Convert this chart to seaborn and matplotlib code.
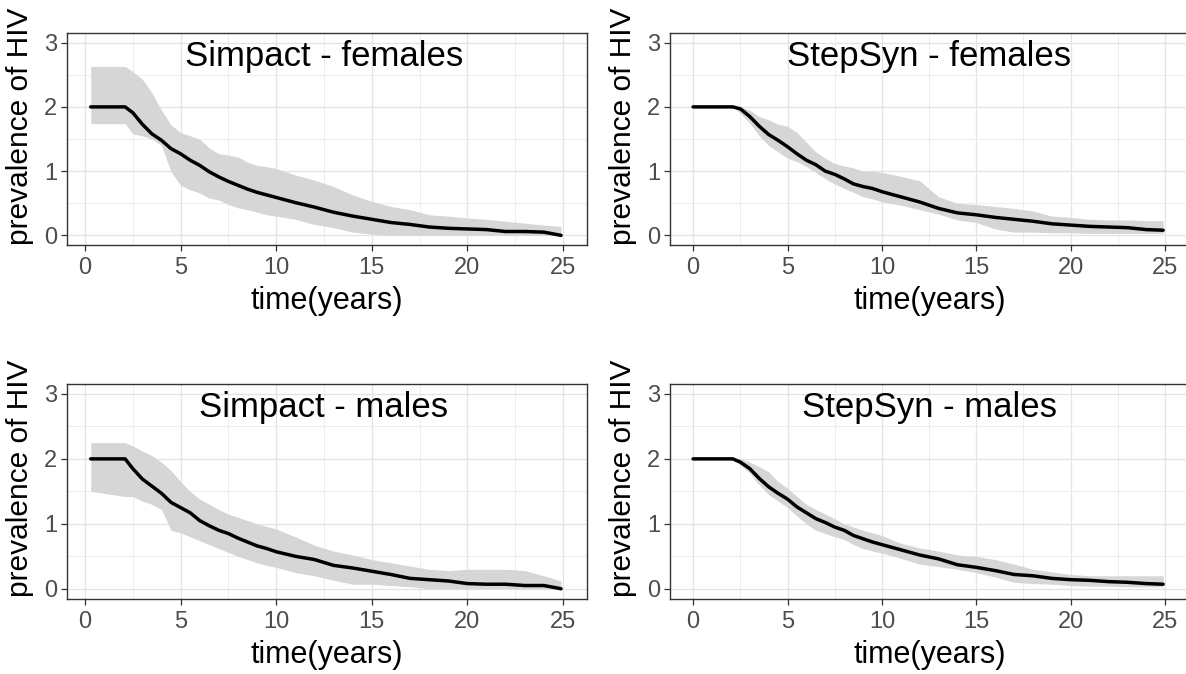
import matplotlib
matplotlib.use("Agg")
import matplotlib.pyplot as plt
import seaborn as sns
import pandas as pd
from matplotlib.ticker import MultipleLocator

sns.set_theme(style="white")
plt.rcParams["font.family"] = ["Liberation Sans", "DejaVu Sans"]

# time knots (years)
simpact_time = [0.3, 2.1, 2.5, 3, 3.5, 4, 4.5, 5, 5.5, 6, 6.5, 7, 7.5, 8, 8.5, 9, 9.5, 10,
                11, 12, 13, 14, 15, 16, 17, 18, 19, 20, 21, 22, 23, 24, 24.9]
stepsyn_time = [0.0, 2.1, 2.5, 3, 3.5, 4, 4.5, 5, 5.5, 6, 6.5, 7, 7.5, 8, 8.5, 9, 9.5, 10,
                11, 12, 13, 14, 15, 16, 17, 18, 19, 20, 21, 22, 23, 24, 24.9]

# Simpact - females
sf_mean = [2.0, 2.0, 1.91, 1.73, 1.58, 1.48, 1.35, 1.27, 1.17, 1.09, 0.99, 0.91, 0.84, 0.78, 0.72, 0.67, 0.63, 0.59,
           0.51, 0.44, 0.36, 0.30, 0.25, 0.20, 0.17, 0.13, 0.11, 0.10, 0.09, 0.06, 0.06, 0.05, 0.0]
sf_upper = [2.63, 2.63, 2.55, 2.43, 2.22, 1.95, 1.72, 1.60, 1.55, 1.50, 1.36, 1.27, 1.25, 1.22, 1.14, 1.09, 1.07, 1.04,
            0.94, 0.86, 0.76, 0.63, 0.53, 0.45, 0.40, 0.32, 0.30, 0.27, 0.25, 0.22, 0.19, 0.16, 0.14]
sf_lower = [1.74, 1.74, 1.58, 1.55, 1.50, 1.40, 0.99, 0.78, 0.71, 0.66, 0.58, 0.55, 0.48, 0.43, 0.40, 0.36, 0.32, 0.30,
            0.25, 0.17, 0.12, 0.05, 0.02, 0.0, 0.0, 0.0, 0.0, 0.0, 0.0, 0.0, 0.0, 0.0, 0.0]

# Simpact - males
sm_mean = [2.0, 2.0, 1.85, 1.69, 1.58, 1.47, 1.33, 1.25, 1.17, 1.05, 0.97, 0.90, 0.85, 0.78, 0.72, 0.66, 0.62, 0.57,
           0.50, 0.45, 0.36, 0.32, 0.27, 0.22, 0.16, 0.14, 0.12, 0.08, 0.07, 0.07, 0.05, 0.05, 0.0]
sm_upper = [2.25, 2.25, 2.20, 2.12, 2.05, 1.95, 1.82, 1.65, 1.50, 1.38, 1.30, 1.22, 1.15, 1.10, 1.05, 1.00, 0.96, 0.92,
            0.80, 0.67, 0.58, 0.52, 0.45, 0.40, 0.35, 0.30, 0.28, 0.30, 0.30, 0.30, 0.28, 0.20, 0.12]
sm_lower = [1.50, 1.42, 1.42, 1.35, 1.30, 1.22, 0.90, 0.86, 0.80, 0.74, 0.68, 0.62, 0.56, 0.50, 0.45, 0.40, 0.36, 0.33,
            0.25, 0.20, 0.13, 0.07, 0.07, 0.05, 0.03, 0.0, 0.0, 0.0, 0.0, 0.0, 0.0, 0.0, 0.0]

# StepSyn - females
ssf_mean = [2.0, 2.0, 1.97, 1.85, 1.70, 1.57, 1.48, 1.38, 1.27, 1.17, 1.10, 1.00, 0.95, 0.88, 0.80, 0.76, 0.73, 0.68,
            0.60, 0.52, 0.42, 0.35, 0.32, 0.28, 0.25, 0.22, 0.18, 0.16, 0.14, 0.13, 0.12, 0.09, 0.08]
ssf_upper = [2.0, 2.0, 2.0, 1.95, 1.85, 1.80, 1.73, 1.70, 1.60, 1.45, 1.30, 1.20, 1.12, 1.08, 1.05, 1.00, 1.00, 0.98,
             0.92, 0.85, 0.60, 0.50, 0.48, 0.45, 0.42, 0.38, 0.30, 0.28, 0.25, 0.24, 0.24, 0.23, 0.23]
ssf_lower = [2.0, 2.0, 1.90, 1.75, 1.55, 1.40, 1.30, 1.20, 1.15, 1.07, 0.98, 0.88, 0.80, 0.73, 0.67, 0.60, 0.57, 0.52,
             0.47, 0.40, 0.33, 0.24, 0.20, 0.10, 0.05, 0.05, 0.04, 0.04, 0.03, 0.03, 0.03, 0.03, 0.03]

# StepSyn - males
ssm_mean = [2.0, 2.0, 1.95, 1.85, 1.70, 1.57, 1.47, 1.38, 1.26, 1.17, 1.08, 1.02, 0.95, 0.90, 0.82, 0.77, 0.72, 0.68,
            0.60, 0.52, 0.46, 0.37, 0.33, 0.28, 0.22, 0.20, 0.16, 0.14, 0.13, 0.11, 0.10, 0.08, 0.07]
ssm_upper = [2.0, 2.0, 2.0, 1.95, 1.88, 1.80, 1.65, 1.55, 1.42, 1.30, 1.22, 1.15, 1.08, 1.00, 0.95, 0.90, 0.86, 0.82,
             0.70, 0.63, 0.58, 0.52, 0.50, 0.45, 0.38, 0.30, 0.26, 0.22, 0.20, 0.20, 0.20, 0.20, 0.20]
ssm_lower = [2.0, 2.0, 1.90, 1.78, 1.60, 1.45, 1.35, 1.25, 1.12, 1.00, 0.90, 0.85, 0.80, 0.76, 0.68, 0.62, 0.58, 0.55,
             0.47, 0.38, 0.34, 0.30, 0.25, 0.18, 0.10, 0.08, 0.07, 0.05, 0.04, 0.04, 0.03, 0.03, 0.03]

# panel layout: left column fully visible, right column runs just past the image edge
left_rect_x, right_rect_x, col_w = 0.0565, 0.565, 0.4385
top_y, top_h = 0.6365, 0.3145
bot_y, bot_h = 0.1120, 0.3180
left_xlim = (-0.94, 26.26)
right_xlim = (-1.22, 26.33)

panels = [
    ("Simpact - females", simpact_time, sf_mean, sf_lower, sf_upper, [left_rect_x, top_y, col_w, top_h], left_xlim),
    ("StepSyn - females", stepsyn_time, ssf_mean, ssf_lower, ssf_upper, [right_rect_x, top_y, col_w, top_h], right_xlim),
    ("Simpact - males", simpact_time, sm_mean, sm_lower, sm_upper, [left_rect_x, bot_y, col_w, bot_h], left_xlim),
    ("StepSyn - males", stepsyn_time, ssm_mean, ssm_lower, ssm_upper, [right_rect_x, bot_y, col_w, bot_h], right_xlim),
]

fig = plt.figure(figsize=(11.86, 6.74), dpi=100)

for title, t, mean, lower, upper, rect, xlim in panels:
    ax = fig.add_axes(rect)
    df = pd.DataFrame({"time": t, "prev": mean, "lo": lower, "hi": upper})
    ax.fill_between(df["time"], df["lo"], df["hi"], color="#D6D6D6", lw=0, zorder=2)
    sns.lineplot(data=df, x="time", y="prev", ax=ax, color="black", lw=2.5, zorder=3)

    ax.set_xlim(*xlim)
    ax.set_ylim(-0.15, 3.15)
    ax.xaxis.set_major_locator(MultipleLocator(5))
    ax.xaxis.set_minor_locator(MultipleLocator(2.5))
    ax.yaxis.set_major_locator(MultipleLocator(1))
    ax.yaxis.set_minor_locator(MultipleLocator(0.5))
    ax.grid(which="major", color="#E3E3E3", lw=0.9, zorder=0)
    ax.grid(which="minor", color="#EDEDED", lw=0.7, zorder=0)
    ax.set_axisbelow(True)
    for s in ax.spines.values():
        s.set_color("#333333")
        s.set_linewidth(1.0)
    ax.tick_params(which="major", length=4, width=0.9, color="#333333",
                   labelsize=17, labelcolor="#4D4D4D", bottom=True, left=True)
    ax.tick_params(axis="x", which="major", pad=5)
    ax.tick_params(axis="y", which="major", pad=3)
    ax.tick_params(which="minor", length=0)
    ax.set_xlabel("time(years)", fontsize=22, color="black", labelpad=5)
    ax.set_ylabel("prevalence of HIV", fontsize=21.5, color="black")
    # label sits a bit above the panel centre, as in the original
    ax.yaxis.set_label_coords(-0.064, 0.56)
    ax.text(12.5, 2.79, title, ha="center", va="center", fontsize=25, color="black")

fig.savefig("out.png", dpi=100)
